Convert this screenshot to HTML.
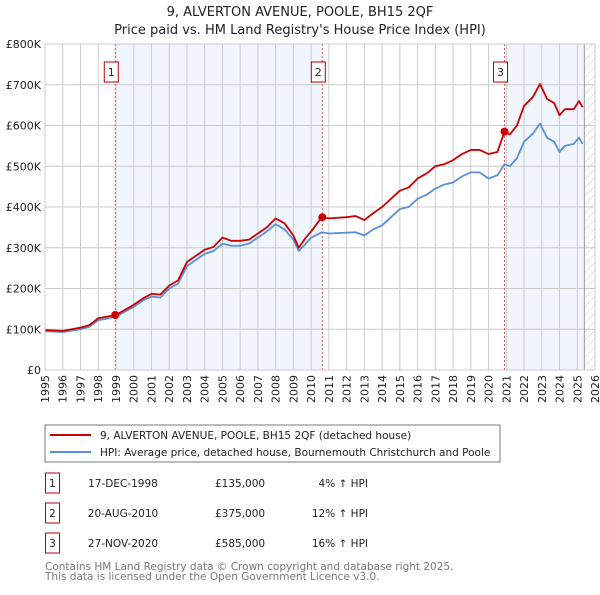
<!DOCTYPE html>
<html><head><meta charset="utf-8"><style>
body{margin:0;background:#fff;font-family:"Liberation Sans","DejaVu Sans",sans-serif;}
svg text{font-family:"DejaVu Sans","Liberation Sans",sans-serif;}
</style></head><body>
<svg id="c" width="600" height="590" xmlns="http://www.w3.org/2000/svg">
<defs><pattern id="hatch" width="6" height="6" patternUnits="userSpaceOnUse" patternTransform="rotate(45)"><line x1="0" y1="0" x2="0" y2="6" stroke="#ccc" stroke-width="1"/></pattern></defs>
<text x="300" y="16" text-anchor="middle" font-size="13" fill="#222">9, ALVERTON AVENUE, POOLE, BH15 2QF</text>
<text x="300" y="34" text-anchor="middle" font-size="13" fill="#222">Price paid vs. HM Land Registry's House Price Index (HPI)</text>
<g id="plot"></g>
<rect x="45" y="425" width="455" height="37" fill="#fff" stroke="#777"/>
<line x1="50" y1="435" x2="91" y2="435" stroke="#cc0000" stroke-width="2"/>
<text x="100" y="439" font-size="10.5" fill="#222">9, ALVERTON AVENUE, POOLE, BH15 2QF (detached house)</text>
<line x1="50" y1="452" x2="91" y2="452" stroke="#5b8fd4" stroke-width="2"/>
<text x="100" y="456" font-size="10.5" fill="#222">HPI: Average price, detached house, Bournemouth Christchurch and Poole</text>
<g id="table" font-size="10.5" fill="#222"></g>
<text x="45" y="570" font-size="10.5" fill="#777">Contains HM Land Registry data © Crown copyright and database right 2025.</text>
<text x="45" y="580" font-size="10.5" fill="#777">This data is licensed under the Open Government Licence v3.0.</text>
</svg>
<script>
const yearTicks=[1995,1996,1997,1998,1999,2000,2001,2002,2003,2004,2005,2006,2007,2008,2009,2010,2011,2012,2013,2014,2015,2016,2017,2018,2019,2020,2021,2022,2023,2024,2025,2026];
const valueTicks=[0,100000,200000,300000,400000,500000,600000,700000,800000];
const valueTickLabels=["£0","£100K","£200K","£300K","£400K","£500K","£600K","£700K","£800K"];
const hpiYears=[1995,1996,1997,1997.5,1998,1998.5,1999,2000,2000.5,2001,2001.5,2002,2002.5,2003,2003.5,2004,2004.5,2005,2005.5,2006,2006.5,2007,2007.5,2008,2008.5,2009,2009.3,2009.7,2010,2010.6,2011,2012,2012.5,2013,2013.5,2014,2014.5,2015,2015.5,2016,2016.5,2017,2017.5,2018,2018.5,2019,2019.5,2020,2020.5,2020.9,2021.2,2021.6,2022,2022.5,2022.9,2023.3,2023.7,2024,2024.3,2024.8,2025.1,2025.3];
const hpiValues=[95,93,100,106,122,126,131,155,170,180,178,200,212,255,270,285,292,310,305,305,310,325,340,358,345,320,292,310,325,338,335,337,338,330,345,355,375,395,400,420,430,445,455,460,475,485,485,470,478,505,500,520,560,580,605,570,560,535,550,555,570,555];
const priceYears=hpiYears;
const priceValues=[98,96,104,110,127,131,135,160,175,187,185,207,220,265,280,295,302,325,317,317,320,335,350,372,360,330,300,325,340,375,372,375,378,368,385,400,420,440,448,470,482,500,505,515,530,540,540,530,535,585,578,600,648,670,702,665,655,625,640,640,660,645];
const saleYears=[1998.96,2010.63,2020.9];
const saleValues=[135000,375000,585000];
const saleDates=["17-DEC-1998","20-AUG-2010","27-NOV-2020"];
const salePrices=["£135,000","£375,000","£585,000"];
const salePcts=["4% ↑ HPI","12% ↑ HPI","16% ↑ HPI"];
const dataEnd=2025.4;

const NS="http://www.w3.org/2000/svg";
const X0=45,X1=595,Y0=370,Y1=44;
const xs=y=>X0+(y-1995)/(2026-1995)*(X1-X0);
const ys=v=>Y0-v/800000*(Y0-Y1);
const plot=document.getElementById('plot');
function mk(t,a,p){const e=document.createElementNS(NS,t);for(const k in a)e.setAttribute(k,a[k]);(p||plot).appendChild(e);return e;}
let e;
e=mk('rect',{x:X0,y:Y1,width:X1-X0,height:Y0-Y1,fill:'#fff'});


e=mk('rect',{x:xs(saleYears[0]),y:Y1,width:xs(saleYears[1])-xs(saleYears[0]),height:Y0-Y1,fill:'#eef3fc',opacity:0.8});


e=mk('rect',{x:xs(saleYears[2]),y:Y1,width:xs(dataEnd)-xs(saleYears[2]),height:Y0-Y1,fill:'#eef3fc',opacity:0.8});


e=mk('rect',{x:xs(dataEnd),y:Y1,width:X1-xs(dataEnd),height:Y0-Y1,fill:'url(#hatch)'});


yearTicks.forEach(y=>{
 e=mk('line',{x1:xs(y),x2:xs(y),y1:Y1,y2:Y0,stroke:'#ccc','stroke-width':1});
 
 
 const t=mk('text',{x:0,y:0,'font-size':11,fill:'#222','text-anchor':'end',transform:`translate(${xs(y)+4},${Y0+5}) rotate(-90)`});
 t.textContent=y;
 
 
});
valueTicks.forEach((v,i)=>{
 e=mk('line',{x1:X0,x2:X1,y1:ys(v),y2:ys(v),stroke:'#ccc','stroke-width':1});
 
 
 const t=mk('text',{x:41,y:ys(v)+4,'font-size':11,fill:'#222','text-anchor':'end'});
 t.textContent=valueTickLabels[i];
 
 
});
e=mk('line',{x1:xs(dataEnd),x2:xs(dataEnd),y1:Y1,y2:Y0,stroke:'#999','stroke-width':1});


saleYears.forEach((y,i)=>{
 e=mk('line',{x1:xs(y),x2:xs(y),y1:Y1,y2:Y0,stroke:'#e06060','stroke-width':1,'stroke-dasharray':'2,2'});
 
 
 e=mk('rect',{x:xs(y)-11,y:62,width:14,height:20,fill:'#fff',stroke:'#b00'});
 
 
 const t=mk('text',{x:xs(y)-4,y:76,'font-size':11,fill:'#222','text-anchor':'middle'});
 t.textContent=i+1;
 
 
});
e=mk('polyline',{points:hpiYears.map((y,i)=>xs(y)+','+ys(hpiValues[i]*1000)).join(' '),fill:'none',stroke:'#5b8fd4','stroke-width':1.8,'stroke-linejoin':'round'});


e=mk('polyline',{points:priceYears.map((y,i)=>xs(y)+','+ys(priceValues[i]*1000)).join(' '),fill:'none',stroke:'#cc0000','stroke-width':1.8,'stroke-linejoin':'round'});


saleYears.forEach((y,i)=>{
 e=mk('circle',{cx:xs(y),cy:ys(saleValues[i]),r:4,fill:'#cc0000'});
 
 
});
e=mk('rect',{x:X0,y:Y1,width:X1-X0,height:Y0-Y1,fill:'none',stroke:'#ccc'});


const tb=document.getElementById('table');
saleYears.forEach((y,i)=>{
 const ry=483+30*i;
 e=mk('rect',{x:45.5,y:ry-10,width:14,height:20,fill:'#fff',stroke:'#b00'},tb);
 
 
 let t=mk('text',{x:52.5,y:ry+4,'text-anchor':'middle'},tb);t.textContent=i+1;
 
 
 t=mk('text',{x:123,y:ry+4,'text-anchor':'middle'},tb);t.textContent=saleDates[i];
 
 
 t=mk('text',{x:215,y:ry+4},tb);t.textContent=salePrices[i];
 
 
 t=mk('text',{x:368,y:ry+4,'text-anchor':'end'},tb);t.textContent=salePcts[i];
 
 
});
</script>
</body></html>
